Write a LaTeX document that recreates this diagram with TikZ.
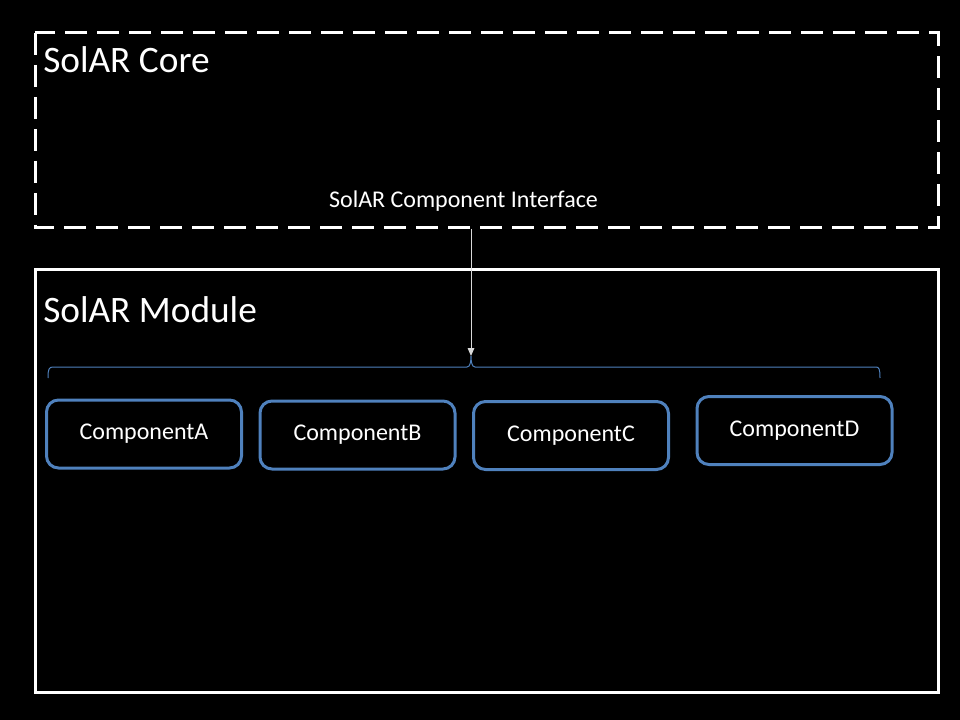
\documentclass[tikz,border=0pt]{standalone}
\usepackage{fontspec}
\setmainfont{Carlito}
\usetikzlibrary{arrows.meta}
\definecolor{compblue}{RGB}{79,129,189}
\tikzset{
	compbox/.style={draw=compblue, line width=2.25pt, rounded corners=9pt, fill=black, text=white, minimum width=146.25pt, minimum height=51pt, inner sep=0pt, font=\fontsize{18}{21}\selectfont},
	bigtitle/.style={text=white, anchor=base west, inner sep=0pt, font=\fontsize{28}{33}\selectfont},
	smalltext/.style={text=white, anchor=base, inner sep=0pt, font=\fontsize{18}{21}\selectfont}
}

\begin{document}
\begin{tikzpicture}[x=0.75pt, y=-0.75pt]
			%%%%% START %%%%%
			
			\fill[black] (0, 0) rectangle (960, 720);
			\useasboundingbox (0, 0) rectangle (960, 720);
			
			\draw[line width=2.25pt, color=white, dash pattern=on 16.5pt off 7.5pt] (35, 33) rectangle (938, 228);
			\node[bigtitle] (core) at (43, 73) {SolAR Core};
			\node[smalltext] (iface) at (463.5, 208) {SolAR Component Interface};
			
			\draw[line width=2.25pt, color=white] (35, 270) rectangle (938, 692);
			\node[bigtitle] (module) at (43, 322) {SolAR Module};
			
			\coordinate (ifacetop) at (471, 229);
			\coordinate (bracetip) at (471, 356);
			\draw[line width=0.75pt, color=compblue] (48, 378) .. controls (48, 369) and (49, 367) .. (53, 367) -- (467, 367) .. controls (470, 367) and (471, 362) .. (bracetip) .. controls (471, 362) and (472, 367) .. (475, 367) -- (876, 367) .. controls (879, 367) and (880, 369) .. (880, 378);
			\draw[line width=0.75pt, color=white!85!black, -{Triangle[length=6pt, width=5pt]}] (ifacetop) -- (bracetip);
			
			\node[compbox] (compA) at (144, 434) {ComponentA};
			\node[compbox] (compB) at (357.5, 435) {ComponentB};
			\node[compbox] (compC) at (571, 435.5) {ComponentC};
			\node[compbox] (compD) at (794.5, 430.5) {ComponentD};
			
			%%%%% END %%%%%
\end{tikzpicture}
\end{document}
